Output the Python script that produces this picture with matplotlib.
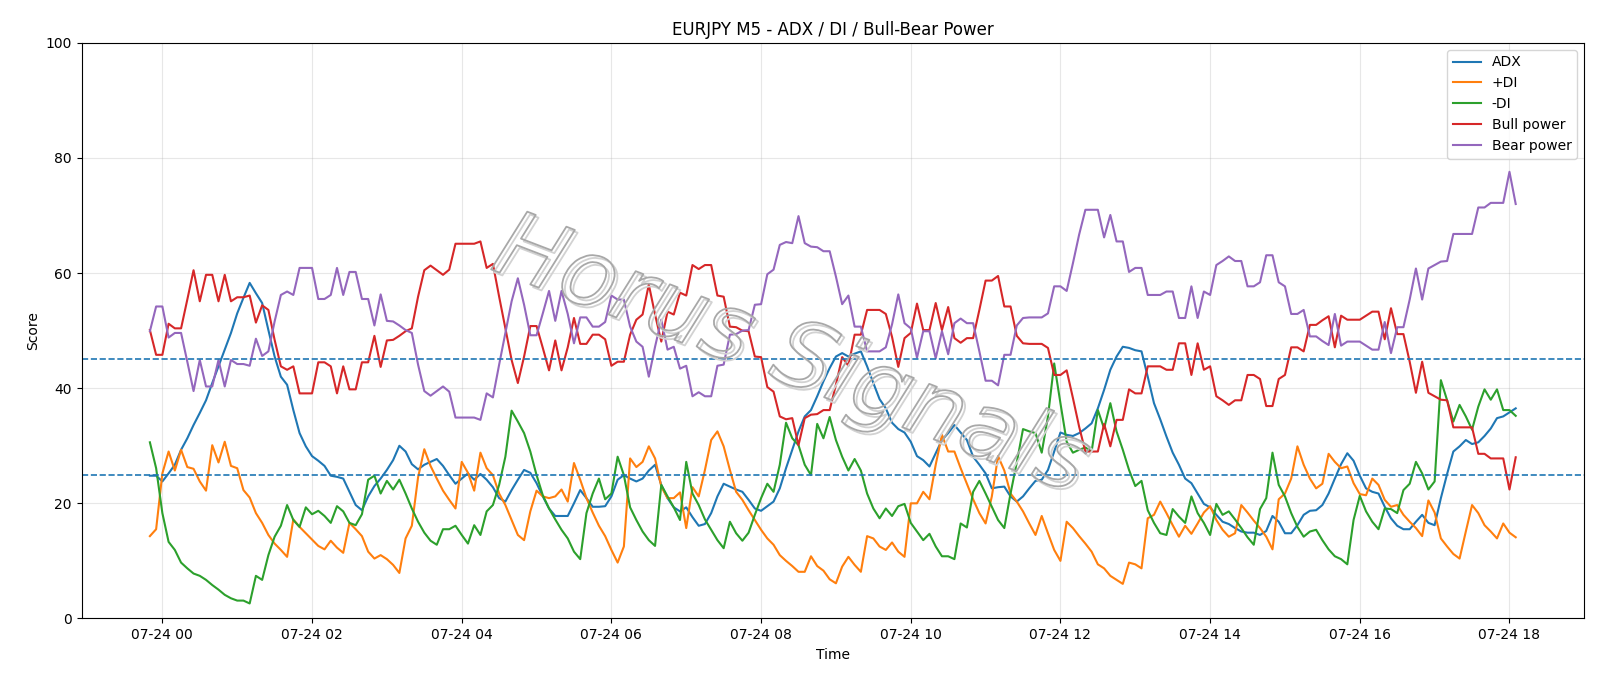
import matplotlib
matplotlib.use("Agg")
import matplotlib.pyplot as plt
import matplotlib.dates as mdates
import matplotlib.patheffects as pe
import pandas as pd

# 5-minute bars, first bar 07-23 23:50
start_time = "2025-07-23 23:50"

adx = [24.8, 24.8, 23.8, 25.2, 26.7, 29.3, 31.3, 33.6, 35.7, 37.9, 40.9, 43.8, 46.7, 49.6, 53, 55.7, 58.3, 56.5, 54.8, 50.1, 45.5, 42, 40.6, 36.2, 32.2, 29.9, 28.2, 27.4, 26.5,
       24.8, 24.6, 24.3, 22, 19.7, 18.8, 21.2, 23, 24.3, 25.8, 27.5, 30, 29, 26.8, 25.9, 26.7, 27.2, 27.7, 26.5, 24.9, 23.4, 24.3, 25.2, 24.1, 25.1, 24.1, 22.8, 20.9, 20.3, 22.3, 24.1,
       25.8, 25.3, 23.5, 21.2, 19.1, 17.8, 17.8, 17.8, 20, 22.3, 20.9, 19.4, 19.4, 19.5, 21.2, 24.1, 24.9, 24.3, 23.8, 24.3, 25.7, 26.7, 23.2, 20.9, 19.3, 18.6, 19.3, 17.6, 16.1, 16.4,
       18.3, 21.2, 23.4, 22.9, 22.4, 22, 20.6, 19.1, 18.7, 19.5, 20.3, 22.6, 26.1, 29.3, 32.5, 35.1, 36.2, 38.6, 41.2, 43.5, 45.5, 46.1, 45.5, 46, 46.4, 43.8, 40.9, 38.1, 36.5, 34, 32.9,
       32.3, 30.7, 28.2, 27.5, 26.4, 28.7, 31, 32.2, 33.6, 32.3, 31, 28.1, 26.7, 25.2, 22.6, 22.8, 22.9, 21.2, 20.3, 21.2, 22.6, 23.9, 24.1, 25.8, 29, 32.3, 31.9, 31.7, 32.2, 33,
       33.9, 36.5, 39.7, 43.2, 45.5, 47.2, 47, 46.6, 46.4, 42, 37.4, 34.6, 31.6, 28.8, 26.7, 24.3, 23.5, 21.7, 19.9, 19.3, 18, 16.8, 16.4, 15.7, 15.1, 14.9, 14.9, 14.5, 15.2, 17.8, 16.8,
       14.8, 14.8, 16.2, 18, 18.7, 18.8, 19.7, 21.7, 24.3, 26.8, 28.7, 27.4, 24.8, 22.6, 22, 21.7, 19.4, 17.4, 16.1, 15.5, 15.5, 16.8, 18, 16.6, 16.2, 20.9, 25.1, 29, 29.9, 31, 30.3, 30.6, 31.7, 33, 34.8, 35.1, 35.8, 36.5]

plus_di = [14.3, 15.5, 25.2, 29, 25.7, 29.3, 26.3, 26, 23.8, 22.2, 30.1, 27.1, 30.7, 26.5, 26.1, 22.3, 21, 18.3, 16.6, 14.5, 13, 11.9, 10.7, 17.2, 15.9, 14.8, 13.7, 12.6, 12,
           13.5, 12.3, 11.4, 16.6, 15.5, 14.3, 11.6, 10.4, 11, 10.3, 9.3, 7.9, 13.9, 16.1, 24.5, 29.4, 26.5, 24.3, 22.2, 20.6, 19.1, 27.2, 25.3, 22.2, 28.8, 26.1, 24.9, 21.7, 19.7, 17.1, 14.5,
           13.6, 18.6, 22.2, 21.2, 20.9, 21.2, 22.4, 20.3, 27, 24.1, 20.9, 18.4, 16.1, 14.3, 11.9, 9.7, 12.5, 27.8, 26.3, 27.2, 29.9, 27.8, 22.9, 20.9, 20.9, 21.9, 15.7, 22.8, 21.2, 25.8,
           31, 32.5, 29.9, 25.8, 22, 20.6, 18.8, 17.1, 15.4, 13.9, 12.8, 11, 10, 9.1, 8.1, 8.1, 10.8, 9.1, 8.3, 6.8, 6.1, 9, 10.7, 9.3, 8.1, 14.3, 13.9, 12.5, 11.9, 13.2, 11.6,
           10.7, 20, 20, 22, 20.7, 26.7, 31.9, 29, 29, 26.1, 23.4, 20.7, 18.3, 16.5, 21.2, 28.2, 25.7, 21.7, 20.3, 18.6, 16.5, 14.5, 17.8, 14.8, 11.9, 10, 16.8, 15.7, 14.3, 13,
           11.6, 9.4, 8.7, 7.4, 6.7, 6, 9.7, 9.4, 8.7, 17.4, 18, 20.3, 18.3, 16.2, 14.2, 16.1, 14.7, 16.5, 18.4, 19.5, 17.1, 15.4, 14.2, 14.8, 19.7, 18.4, 17, 15.7, 14.2, 12, 20.7,
           21.7, 24.3, 29.9, 26.7, 24.3, 22.6, 23.4, 28.6, 27.2, 26.1, 26.4, 23.5, 21.6, 21.4, 24.3, 23.2, 20.6, 19.4, 19.7, 18, 16.8, 15.7, 14.3, 20.5, 18.4, 13.9, 12.5, 11.2, 10.4, 15.1, 19.7, 18.3, 16.2, 15.1, 13.9, 16.5, 14.9, 14.1]

minus_di = [30.6, 26.1, 18.3, 13.3, 11.9, 9.7, 8.7, 7.8, 7.4, 6.7, 5.8, 5, 4.1, 3.5, 3.1, 3.1, 2.6, 7.4, 6.7, 11, 14.2, 16.1, 19.7, 17.1, 15.9, 19.3, 18.1, 18.7, 17.8,
            16.6, 19.5, 18.6, 16.6, 16.2, 18.1, 24.1, 24.8, 21.7, 23.9, 22.4, 24.1, 21.7, 19.1, 16.8, 14.9, 13.5, 12.8, 15.5, 15.5, 16.1, 14.5, 13, 16.2, 14.5, 18.6, 19.7, 23.2, 28.1, 36.1, 34.2,
            32.2, 29, 24.9, 21.4, 19.1, 17.2, 15.4, 13.9, 11.6, 10.3, 18.3, 21.7, 24.3, 20.7, 21.7, 28.1, 24.9, 19.3, 17.1, 15.1, 13.6, 12.6, 23.2, 21.2, 19.3, 17.1, 27.2, 21.7, 19.7, 17.2,
            15.4, 13.6, 12.2, 16.8, 14.8, 13.5, 14.9, 18, 20.9, 23.4, 22, 26.7, 34, 31.3, 30.1, 26.7, 24.9, 33.8, 31.3, 35, 31, 28.1, 25.7, 27.7, 25.7, 21.7, 19.1, 17.4, 19.1, 17.8, 19.5,
            19.9, 16.6, 15.1, 13.6, 14.7, 12.5, 10.8, 10.8, 10.3, 16.5, 15.8, 22, 23.9, 21.7, 19.4, 17.1, 15.7, 21.7, 27.1, 32.9, 32.5, 32.2, 28.8, 35.1, 44.3, 37.4, 30.7, 28.8, 29.3, 29.7,
            29, 36.2, 33, 37.4, 32.5, 29.3, 25.8, 23, 23.9, 18.8, 16.6, 14.8, 14.5, 19, 17.7, 16.6, 21.2, 18.3, 16.6, 14.5, 19.9, 18, 18.6, 17.2, 15.7, 14.1, 12.8, 19, 20.9, 28.8, 23.2,
            21.2, 18.3, 15.9, 14.2, 15.1, 15.4, 13.6, 12, 10.8, 10.3, 9.4, 17.1, 21.3, 18.6, 16.8, 15.5, 19.1, 19, 18.3, 22.3, 23.4, 27.2, 25.2, 22.4, 23.8, 41.4, 37.9, 34.2, 37.1, 35.1, 32.8, 36.8, 39.8, 38, 39.8, 36.2, 36.2, 35.2]

bull_power = [50.1, 45.8, 45.8, 51.2, 50.4, 50.4, 55.4, 60.5, 55.1, 59.7, 59.7, 55.1, 59.7, 55.1, 55.8, 55.8, 56.1, 51.4, 54.4, 53.6, 48.4, 43.8, 43.2, 43.8, 39.1, 39.1, 39.1, 44.5, 44.5,
              43.8, 39.1, 43.8, 39.8, 39.8, 44.5, 44.5, 49.1, 43.7, 48.3, 48.4, 49.1, 49.9, 50.4, 55.9, 60.5, 61.3, 60.5, 59.7, 60.6, 65.1, 65.1, 65.1, 65.1, 65.5, 60.9, 61.6, 55.9, 50.4, 44.9, 40.9,
              45.5, 50.8, 50.8, 47, 43.1, 48.3, 43.1, 47.1, 52.2, 47.7, 47.7, 49.3, 49.3, 48.5, 43.9, 44.6, 44.6, 49.3, 51.9, 52.8, 58, 52.8, 48.1, 53.3, 52.8, 56.6, 56.1, 61.4, 60.7, 61.4,
              61.4, 56.1, 55.9, 50.7, 50.6, 50, 49.9, 45.5, 45.4, 40.2, 39.4, 35.1, 34.6, 34.8, 30.1, 34.8, 35.4, 35.5, 36.2, 36.2, 40.6, 45.4, 43.9, 49.3, 49.3, 53.6, 53.6, 53.6, 52.9, 48.9, 43.7,
              48.7, 49.6, 54.7, 50.1, 50.1, 54.8, 50.1, 54.1, 48.7, 47.9, 48.7, 48.7, 53.6, 58.7, 58.7, 59.5, 54.2, 54.2, 49.1, 47.8, 47.7, 47.7, 47.7, 47, 42.3, 42.3, 43.1, 38.3, 33.3, 29,
              29, 29, 33.8, 29.9, 34.5, 34.5, 39.8, 39.1, 39.1, 43.8, 43.8, 43.8, 43.2, 43.2, 47.8, 47.8, 42.3, 47.8, 43.2, 43.8, 38.6, 37.9, 37.1, 37.9, 37.9, 42.3, 42.3, 41.6, 36.9, 36.9, 41.6,
              42.3, 47.1, 47.1, 46.4, 51, 51, 51.8, 52.5, 47.1, 52.6, 51.9, 51.9, 51.9, 52.6, 53.3, 53.3, 48.5, 53.9, 49.4, 49.4, 44.6, 39.2, 44.6, 39.2, 38.6, 38, 37.9, 33.2, 33.2, 33.2, 33.2, 28.6, 28.6, 27.8, 27.8, 27.8, 22.4, 28]

bear_power = [49.9, 54.2, 54.2, 48.8, 49.6, 49.6, 44.6, 39.5, 44.9, 40.3, 40.3, 44.9, 40.3, 44.9, 44.2, 44.2, 43.9, 48.6, 45.6, 46.4, 51.6, 56.2, 56.8, 56.2, 60.9, 60.9, 60.9, 55.5, 55.5,
              56.2, 60.9, 56.2, 60.2, 60.2, 55.5, 55.5, 50.9, 56.3, 51.7, 51.6, 50.9, 50.1, 49.6, 44.1, 39.5, 38.7, 39.5, 40.3, 39.4, 34.9, 34.9, 34.9, 34.9, 34.5, 39.1, 38.4, 44.1, 49.6, 55.1, 59.1,
              54.5, 49.2, 49.2, 53, 56.9, 51.7, 56.9, 52.9, 47.8, 52.3, 52.3, 50.7, 50.7, 51.5, 56.1, 55.4, 55.4, 50.7, 48.1, 47.2, 42, 47.2, 51.9, 46.7, 47.2, 43.4, 43.9, 38.6, 39.3, 38.6,
              38.6, 43.9, 44.1, 49.3, 49.4, 50, 50.1, 54.5, 54.6, 59.8, 60.6, 64.9, 65.4, 65.2, 69.9, 65.2, 64.6, 64.5, 63.8, 63.8, 59.4, 54.6, 56.1, 50.7, 50.7, 46.4, 46.4, 46.4, 47.1, 51.1, 56.3,
              51.3, 50.4, 45.3, 49.9, 49.9, 45.2, 49.9, 45.9, 51.3, 52.1, 51.3, 51.3, 46.4, 41.3, 41.3, 40.5, 45.8, 45.8, 50.9, 52.2, 52.3, 52.3, 52.3, 53, 57.7, 57.7, 56.9, 61.7, 66.7, 71,
              71, 71, 66.2, 70.1, 65.5, 65.5, 60.2, 60.9, 60.9, 56.2, 56.2, 56.2, 56.8, 56.8, 52.2, 52.2, 57.7, 52.2, 56.8, 56.2, 61.4, 62.1, 62.9, 62.1, 62.1, 57.7, 57.7, 58.4, 63.1, 63.1, 58.4,
              57.7, 52.9, 52.9, 53.6, 49, 49, 48.2, 47.5, 52.9, 47.4, 48.1, 48.1, 48.1, 47.4, 46.7, 46.7, 51.5, 46.1, 50.6, 50.6, 55.4, 60.8, 55.4, 60.8, 61.4, 62, 62.1, 66.8, 66.8, 66.8, 66.8, 71.4, 71.4, 72.2, 72.2, 72.2, 77.6, 72]

levels = [25, 45]

times = pd.date_range(start_time, periods=len(adx), freq="5min")

fig, ax = plt.subplots(figsize=(16, 6.86), dpi=100)

ax.plot(times, adx, label="ADX", color="C0")
ax.plot(times, plus_di, label="+DI", color="C1")
ax.plot(times, minus_di, label="-DI", color="C2")
ax.plot(times, bull_power, label="Bull power", color="C3")
ax.plot(times, bear_power, label="Bear power", color="C4")

# reference levels
for lv in levels:
    ax.axhline(lv, color="C0", linestyle="--", linewidth=1.2)

ax.set_ylim(0, 100)
ax.set_title("EURJPY M5 - ADX / DI / Bull-Bear Power")
ax.set_xlabel("Time")
ax.set_ylabel("Score")
ax.xaxis.set_major_locator(mdates.HourLocator(interval=2))
ax.xaxis.set_major_formatter(mdates.DateFormatter("%m-%d %H"))
ax.grid(True, alpha=0.3)
ax.legend(loc="upper right")

# watermark (hollow outlined text)
ax.text(0.472, 0.455, "Horus Signals", transform=ax.transAxes, fontsize=66,
        fontstyle="italic", color=(1, 1, 1, 0), rotation=-21,
        ha="center", va="center", zorder=3,
        path_effects=[pe.Stroke(linewidth=1.3, foreground="#d2d2d2", offset=(2, -2)),
                      pe.Stroke(linewidth=1.3, foreground="#a8a8a8")])

fig.subplots_adjust(left=0.051, right=0.990, top=0.9375, bottom=0.0985)
fig.savefig("out.png", dpi=100)
